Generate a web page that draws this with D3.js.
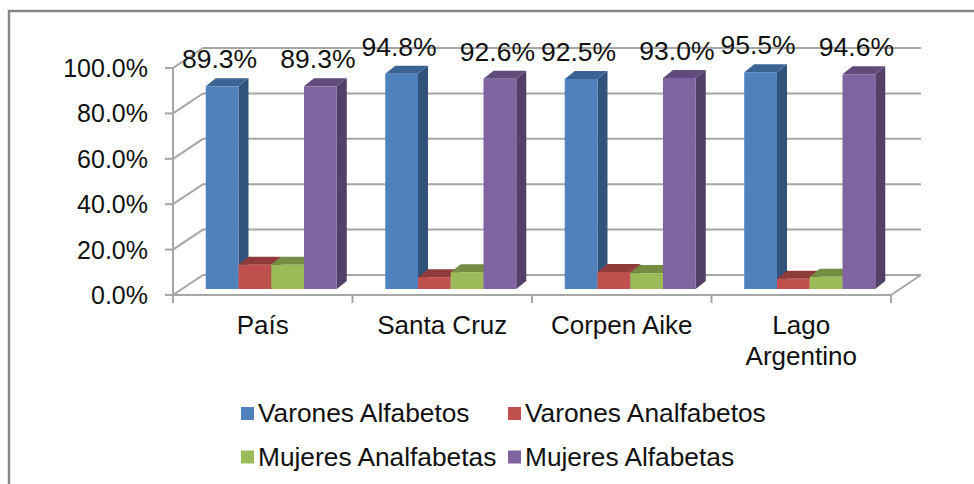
<!DOCTYPE html>
<html>
<head>
<meta charset="utf-8">
<script src="https://cdn.jsdelivr.net/npm/d3@7"></script>
<style>
  body { margin: 0; background: #fff; overflow: hidden; }
  text { font-family: "Liberation Sans", Arial, sans-serif; fill: #111; }
</style>
</head>
<body>
<div id="chart"></div>
<script>
var categories = [["País"], ["Santa Cruz"], ["Corpen Aike"], ["Lago", "Argentino"]];
var seriesNames = ["Varones Alfabetos", "Varones Analfabetos", "Mujeres Analfabetas", "Mujeres Alfabetas"];
var varonesAlfabetos = [89.3, 94.8, 92.5, 95.5];
var varonesAnalfabetos = [10.7, 5.2, 7.5, 4.5];
var mujeresAnalfabetas = [10.7, 7.4, 7.0, 5.4];
var mujeresAlfabetas = [89.3, 92.6, 93.0, 94.6];
var yTicks = [0, 20, 40, 60, 80, 100];

var seriesValues = [varonesAlfabetos, varonesAnalfabetos, mujeresAnalfabetas, mujeresAlfabetas];
var faceColors = ["#4f81bd", "#c0504d", "#9bbb59", "#8064a2"];
var sideColors = ["#31537b", "#7a3230", "#627639", "#534069"];
var topColors = ["#3b6494", "#8f3b39", "#748d43", "#604b7a"];

var svgWidth = 974;
var svgHeight = 484;

// 3D box of the chart: front floor edge and how far the back wall is pushed
var x0 = 173, x1 = 891;
var yBottom = 295, yTop = 68;
var wallDx = 30, wallDy = -20;
// bars stand a little inside the floor
var barDx = 10, barDy = -8, barLift = 6;

var svg = d3.select("#chart").append("svg")
  .attr("width", svgWidth)
  .attr("height", svgHeight)
  .style("display", "block");

// outer frame, right and bottom edges run off the picture
svg.append("rect")
  .attr("x", 9).attr("y", 11)
  .attr("width", 1000).attr("height", 500)
  .attr("fill", "#fff")
  .attr("stroke", "#868686")
  .attr("stroke-width", 2.5);

var xScale = d3.scaleBand().domain(d3.range(categories.length)).range([x0, x1]);
var yScale = d3.scaleLinear().domain([0, 100]).range([yBottom, yTop]);
var barScale = d3.scaleBand().domain(d3.range(seriesNames.length))
  .range([0, xScale.bandwidth() * 0.73]);

var gridColor = "#a6a6a6";
var grid = svg.append("g").attr("stroke", gridColor).attr("stroke-width", 2).attr("fill", "none");

// back wall gridlines and side wall slants
yTicks.forEach(function(t) {
  var y = yScale(t);
  grid.append("path").attr("d", `M${x0},${y}L${x0 + wallDx},${y + wallDy}L${x1 + wallDx},${y + wallDy}`);
  grid.append("line").attr("x1", x0 - 8).attr("x2", x0).attr("y1", y).attr("y2", y);
});
grid.append("line").attr("x1", x0).attr("x2", x0).attr("y1", yTop).attr("y2", yBottom);
// floor
grid.append("path").attr("d", `M${x0},${yBottom}L${x1},${yBottom}L${x1 + wallDx},${yBottom + wallDy}`);
d3.range(categories.length + 1).forEach(function(i) {
  var x = x0 + i * xScale.step();
  grid.append("line").attr("x1", x).attr("x2", x).attr("y1", yBottom).attr("y2", yBottom + 8);
});

// y axis labels
svg.append("g").selectAll("text").data(yTicks).enter().append("text")
  .attr("x", x0 - 25)
  .attr("y", d => yScale(d) + 9)
  .attr("text-anchor", "end")
  .style("font-size", "25px")
  .text(d => d.toFixed(1) + "%");

// category labels
var catLabels = svg.append("g").selectAll("text").data(categories).enter().append("text")
  .attr("text-anchor", "middle")
  .style("font-size", "26px");
catLabels.each(function(lines, i) {
  var cx = xScale(i) + xScale.bandwidth() / 2;
  d3.select(this).selectAll("tspan").data(lines).enter().append("tspan")
    .attr("x", cx)
    .attr("y", (d, j) => 334 + j * 31)
    .text(d => d);
});

function barLeft(c, s) {
  return xScale(c) + (xScale.bandwidth() - barScale.range()[1]) / 2 + barDx - 1.5 + barScale(s);
}

// bars, left to right so each top covers the side of its neighbour
categories.forEach(function(cat, c) {
  d3.range(seriesNames.length).forEach(function(s) {
    var v = seriesValues[s][c];
    var bx = barLeft(c, s);
    var w = barScale.bandwidth();
    var base = yBottom - barLift;
    var ty = base - (yBottom - yScale(v));
    var g = svg.append("g");
    g.append("path").attr("fill", sideColors[s])
      .attr("d", `M${bx + w},${ty}L${bx + w + barDx},${ty + barDy}L${bx + w + barDx},${base + barDy}L${bx + w},${base}Z`);
    g.append("path").attr("fill", topColors[s])
      .attr("d", `M${bx},${ty}L${bx + barDx},${ty + barDy}L${bx + w + barDx},${ty + barDy}L${bx + w},${ty}Z`);
    g.append("rect").attr("fill", faceColors[s])
      .attr("x", bx).attr("y", ty).attr("width", w).attr("height", base - ty);
  });
});

// value labels only on the literate series
[0, 3].forEach(function(s) {
  categories.forEach(function(cat, c) {
    var v = seriesValues[s][c];
    var base = yBottom - barLift;
    svg.append("text")
      .attr("x", barLeft(c, s) + barScale.bandwidth() / 2 - 2.5)
      .attr("y", base - (yBottom - yScale(v)) - 18)
      .attr("text-anchor", "middle")
      .style("font-size", "26.5px")
      .text(v.toFixed(1) + "%");
  });
});

// legend
var legendX = [241, 508];
var legendY = [414, 457.5];
seriesNames.forEach(function(name, i) {
  var lx = legendX[i % 2];
  var ly = legendY[Math.floor(i / 2)];
  svg.append("rect").attr("x", lx).attr("y", ly - 7).attr("width", 13).attr("height", 13).attr("fill", faceColors[i]);
  svg.append("text").attr("x", lx + 17).attr("y", ly + 8).style("font-size", "26.3px").text(name);
});
</script>
</body>
</html>
